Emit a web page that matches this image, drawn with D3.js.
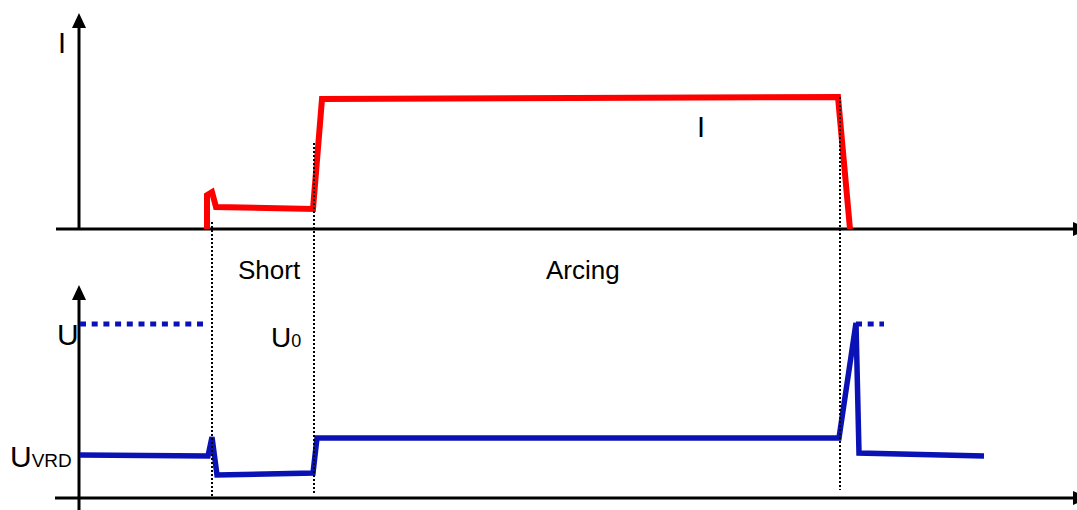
<!DOCTYPE html>
<html>
<head>
<meta charset="utf-8">
<script src="https://cdn.jsdelivr.net/npm/d3@7"></script>
<style>
  body { margin: 0; background: #fff; }
  svg { display: block; }
  text { font-family: "Liberation Sans", Arial, sans-serif; fill: #000; }
</style>
</head>
<body>
<div id="chart"></div>
<script>
var w = 1077, h = 510;

// time is in arbitrary units along the shared horizontal axis
var currentTime = [127, 127, 132, 136, 233, 242, 758, 770];
var currentVals = [0, 15.7, 17.1, 10.2, 9.3, 60.2, 61.1, 0];

var voltageTime = [0, 128, 132, 137, 233, 237, 759, 776, 779, 904];
var voltageVals = [20.2, 19.7, 28.6, 10.8, 11.7, 28.2, 28.2, 82.2, 21.1, 19.7];

// open-circuit voltage U (dotted) before and after the weld
var openTime = [[0, 125], [776, 804]];
var openVal = 81.7;

// phase boundaries (dotted verticals)
var eventTime = [132, 234, 760];
var eventTop = [222, 143, 97];
var eventBottom = [497, 494, 490];

var svg = d3.select("#chart").append("svg")
    .attr("width", w)
    .attr("height", h);

var x = d3.scaleLinear().domain([0, 997]).range([80, 1077]);
var yI = d3.scaleLinear().domain([0, 100]).range([229, 13]);
var yU = d3.scaleLinear().domain([0, 100]).range([498, 285]);

function arrowUp(cx, tip) {
    return "M" + (cx - 7) + "," + (tip + 15) + "L" + cx + "," + tip + "L" + (cx + 7) + "," + (tip + 15) + "Z";
}
function arrowRight(tip, cy) {
    return "M" + (tip - 15) + "," + (cy - 7) + "L" + tip + "," + cy + "L" + (tip - 15) + "," + (cy + 7) + "Z";
}

// axes
var axes = svg.append("g").attr("class", "axes");
// current axes
axes.append("line")
    .attr("x1", 56).attr("x2", 1080)
    .attr("y1", yI(0)).attr("y2", yI(0))
    .attr("stroke", "#000").attr("stroke-width", 3);
axes.append("line")
    .attr("x1", x(0) - 1).attr("x2", x(0) - 1)
    .attr("y1", yI(0)).attr("y2", yI(100) + 10)
    .attr("stroke", "#000").attr("stroke-width", 3);
axes.append("path").attr("d", arrowUp(x(0) - 1, yI(100))).attr("fill", "#000");
axes.append("path").attr("d", arrowRight(1088, yI(0))).attr("fill", "#000");

// voltage axes
axes.append("line")
    .attr("x1", 55).attr("x2", 1080)
    .attr("y1", yU(0)).attr("y2", yU(0))
    .attr("stroke", "#000").attr("stroke-width", 3);
axes.append("line")
    .attr("x1", x(0) - 1).attr("x2", x(0) - 1)
    .attr("y1", h).attr("y2", yU(100) + 10)
    .attr("stroke", "#000").attr("stroke-width", 3);
axes.append("path").attr("d", arrowUp(x(0) - 1, yU(100))).attr("fill", "#000");
axes.append("path").attr("d", arrowRight(1088, yU(0))).attr("fill", "#000");

// current curve
var lineI = d3.line()
    .x(function(d, i) { return x(currentTime[i]); })
    .y(function(d) { return yI(d); });

svg.append("path")
    .datum(currentVals)
    .attr("d", lineI)
    .attr("fill", "none")
    .attr("stroke", "#ff0000")
    .attr("stroke-width", 6)
    .attr("stroke-linejoin", "miter");

// voltage curve
var lineU = d3.line()
    .x(function(d, i) { return x(voltageTime[i]); })
    .y(function(d) { return yU(d); });

svg.append("path")
    .datum(voltageVals)
    .attr("d", lineU)
    .attr("fill", "none")
    .attr("stroke", "#0a12b6")
    .attr("stroke-width", 5.5)
    .attr("stroke-linejoin", "miter");

svg.selectAll(".open-u")
    .data(openTime)
    .enter()
    .append("line")
    .attr("class", "open-u")
    .attr("x1", function(d) { return x(d[0]); })
    .attr("x2", function(d) { return x(d[1]); })
    .attr("y1", yU(openVal))
    .attr("y2", yU(openVal))
    .attr("stroke", "#0a12b6")
    .attr("stroke-width", 5)
    .attr("stroke-dasharray", "6,5.7");

// phase boundaries
svg.selectAll(".event")
    .data(eventTime)
    .enter()
    .append("line")
    .attr("class", "event")
    .attr("x1", function(d) { return x(d); })
    .attr("x2", function(d) { return x(d); })
    .attr("y1", function(d, i) { return eventTop[i]; })
    .attr("y2", function(d, i) { return eventBottom[i]; })
    .attr("stroke", "#000")
    .attr("stroke-width", 2)
    .attr("stroke-dasharray", "2,2")
    .attr("shape-rendering", "crispEdges");

// labels
var labels = svg.append("g").attr("class", "labels");
labels.append("text").attr("x", 58).attr("y", 53).style("font-size", "29px").text("I");
labels.append("text").attr("x", 697).attr("y", 137).style("font-size", "29px").text("I");
labels.append("text").attr("x", 238).attr("y", 279).style("font-size", "26px").text("Short");
labels.append("text").attr("x", 546).attr("y", 279).style("font-size", "26px").text("Arcing");
labels.append("text").attr("x", 57).attr("y", 345).style("font-size", "30px").text("U");

var u0 = labels.append("text").attr("x", 271).attr("y", 347).style("font-size", "28px");
u0.append("tspan").text("U");
u0.append("tspan").style("font-size", "18px").text("0");

var uvrd = labels.append("text").attr("x", 10).attr("y", 467).style("font-size", "30px");
uvrd.append("tspan").text("U");
uvrd.append("tspan").style("font-size", "19px").text("VRD");
</script>
</body>
</html>
